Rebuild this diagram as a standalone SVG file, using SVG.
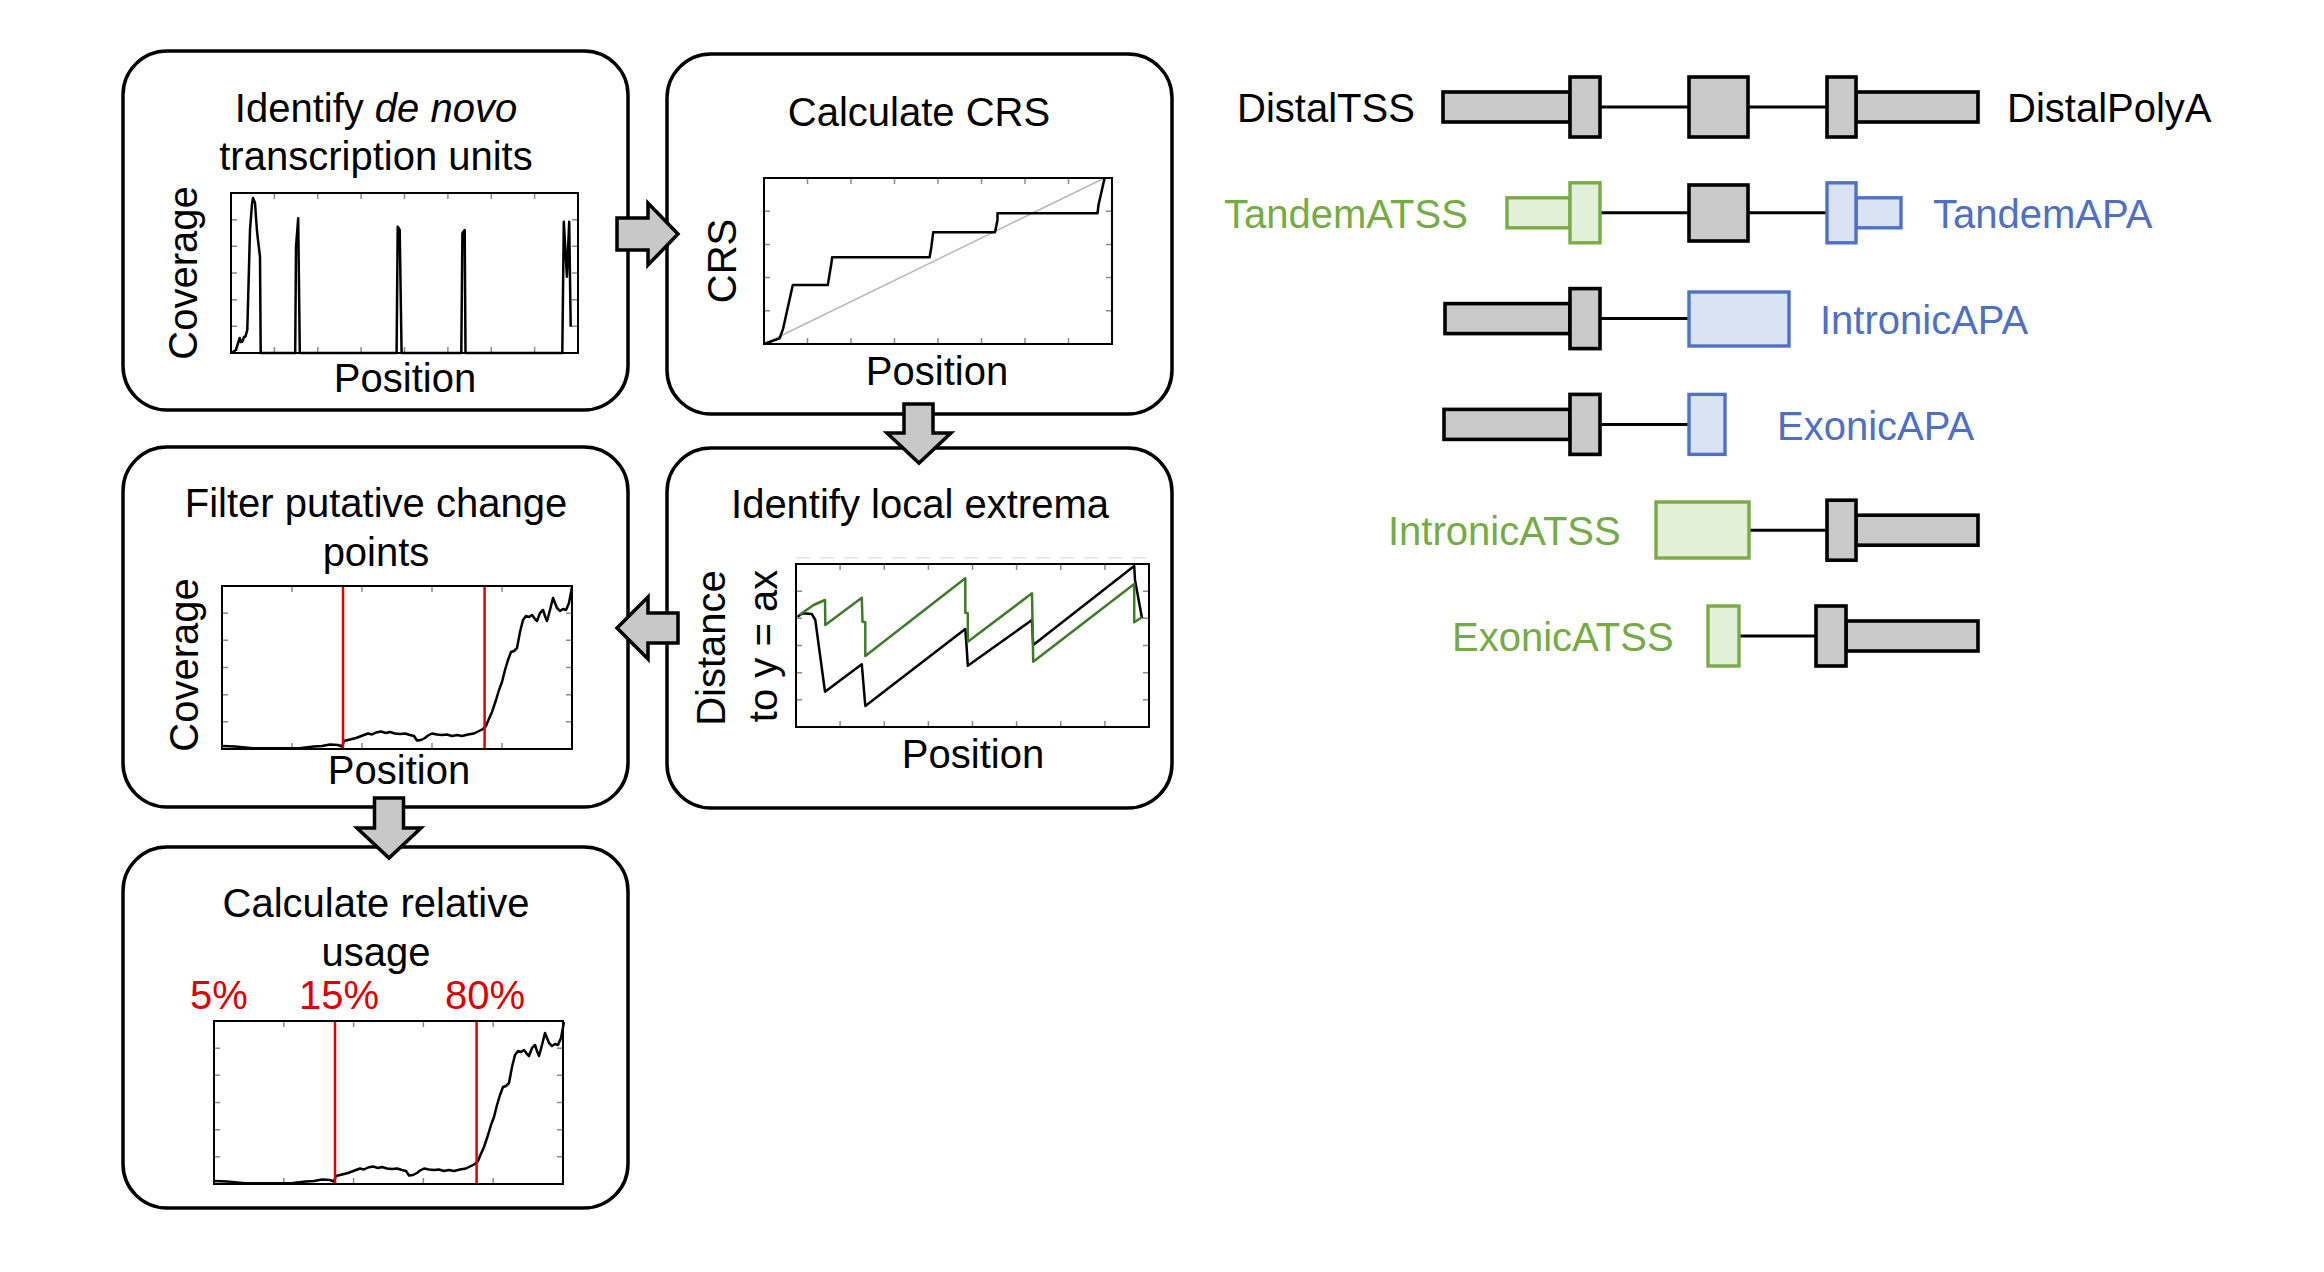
<svg xmlns="http://www.w3.org/2000/svg" width="2324" height="1272" viewBox="0 0 2324 1272">
<style>
text{font-family:"Liberation Sans",Arial,sans-serif;font-size:40px;fill:#000}
.c{text-anchor:middle}
.box{fill:#fff;stroke:#000;stroke-width:3.5}
.arr{fill:#c8c8c8;stroke:#000;stroke-width:3.5;stroke-linejoin:miter}
.frame{fill:none;stroke:#000;stroke-width:2}
.tick{fill:none;stroke:#8a8a8a;stroke-width:1.5}
.curve{fill:none;stroke:#000;stroke-width:2.5;stroke-linejoin:round}
.gcurve{fill:none;stroke:#3f7a2c;stroke-width:2.5;stroke-linejoin:round}
.red{stroke:#dd0000;stroke-width:2.5}
.rtext{fill:#dd0000}
.gray{fill:#c9c9c9;stroke:#000;stroke-width:3.6}
.grn{fill:#e2efd9;stroke:#7aab48;stroke-width:3.4}
.blu{fill:#dae3f3;stroke:#4f72c4;stroke-width:3.4}
.ln{stroke:#000;stroke-width:3}
.gt{fill:#75ab45}
.bt{fill:#4f6fc4}
</style>
<defs>
<path id="cov" d="M222.5,746 L235,746.5 L253,748.3 L300,748.3 L305,747.5 L314,746.5 L322,746 L330,744.5 L338,745 L342,746.5 L344,741 L350,739.5 L356,738 L360,736.5 L364,735 L368,733.5 L372,734.5 L376,732.5 L381,731.5 L386,733 L390,732 L395,733.5 L400,734 L405,733.5 L410,735 L414,736 L417,740.5 L421,740 L425,738 L428,735.5 L432,733.5 L437,734.5 L442,735 L447,734.5 L452,736 L457,735 L462,736 L468,734.5 L474,733.5 L478,731.5 L483,729 L486,726 L488,721 L492,712 L496,700 L499,690 L502,682 L505,670 L508,660 L511,652 L514,651 L517,648 L520,632 L523,620 L526,616 L529,617 L532,615 L535,619 L537,621 L540,613 L543,610 L545,616 L547,621 L550,610 L553,598 L555,603 L557,608 L560,611 L563,609 L566,610 L569,603 L572,587"/>
</defs>

<g id="node-denovo">
<rect class="box" x="123" y="51" width="505" height="359" rx="44"/>
<text class="c" x="376" y="122">Identify <tspan font-style="italic">de novo</tspan></text>
<text class="c" x="376" y="170">transcription units</text>
<text class="c" transform="translate(197,273) rotate(-90)">Coverage</text>
<text class="c" x="405" y="392">Position</text>
<path class="tick" d="M274.4,353v-6M317.8,353v-6M361.1,353v-6M404.5,353v-6M447.9,353v-6M491.3,353v-6M534.6,353v-6M274.4,193v6M317.8,193v6M361.1,193v6M404.5,193v6M447.9,193v6M491.3,193v6M534.6,193v6M231,219.7h6M231,246.3h6M231,273h6M231,299.7h6M231,326.3h6M578,219.7h-6M578,246.3h-6M578,273h-6M578,299.7h-6M578,326.3h-6"/>
<path class="curve" d="M231.3,353 L235.9,350 L239.7,338 L241,342 L242.4,341.7 L244,337 L245.4,336.7 L247.3,330 L250,230 L252,204 L253,198 L255,203 L256.9,230 L258,240 L260,256.7 L260.7,353 L295.2,353 L296,246.7 L298.2,218.3 L299.8,353 L396.6,353 L397.7,226.7 L399.7,230 L401.6,353 L461.3,353 L462.4,233.3 L464.7,230 L465.5,353 L562.3,353 L563.8,221.7 L566.9,276.7 L569.2,221.7 L570.7,326.7"/>
<rect class="frame" x="231" y="193" width="347" height="160"/>
</g>

<g id="node-crs">
<rect class="box" x="667" y="54" width="505" height="360" rx="44"/>
<text class="c" x="919" y="126">Calculate CRS</text>
<text class="c" transform="translate(736,261) rotate(-90)">CRS</text>
<text class="c" x="937" y="385">Position</text>
<path class="tick" d="M807.5,344v-6M851,344v-6M894.5,344v-6M938,344v-6M981.5,344v-6M1025,344v-6M1068.5,344v-6M807.5,178v6M851,178v6M894.5,178v6M938,178v6M981.5,178v6M1025,178v6M1068.5,178v6M764,211.2h6M764,244.4h6M764,277.6h6M764,310.8h6M1112,211.2h-6M1112,244.4h-6M1112,277.6h-6M1112,310.8h-6"/>
<line x1="764" y1="344" x2="1104.6" y2="178" stroke="#b8b8b8" stroke-width="1.5"/>
<path class="curve" d="M764,344 L779.6,338.3 L783.2,328.3 L792.8,285 L827.8,285 L831.4,263.3 L832.1,257.3 L929.6,257.3 L931.4,246.7 L933.2,232.3 L995,232.3 L997.5,220 L997.5,213.3 L1097.5,213.3 L1098.5,205 L1104.6,178"/>
<rect class="frame" x="764" y="178" width="348" height="166"/>
</g>

<g id="node-filter">
<rect class="box" x="123" y="447" width="505" height="360" rx="44"/>
<text class="c" x="376" y="517">Filter putative change</text>
<text class="c" x="376" y="566">points</text>
<text class="c" transform="translate(198,665) rotate(-90)">Coverage</text>
<text class="c" x="399" y="784">Position</text>
<path class="tick" d="M292,749v-6M362,749v-6M432,749v-6M502,749v-6M292,586v6M362,586v6M432,586v6M502,586v6M222,613.2h6M222,640.3h6M222,667.5h6M222,694.7h6M222,721.8h6M572,613.2h-6M572,640.3h-6M572,667.5h-6M572,694.7h-6M572,721.8h-6"/>
<use href="#cov" class="curve"/>
<line class="red" x1="343" y1="586" x2="343" y2="749"/>
<line class="red" x1="484.6" y1="586" x2="484.6" y2="749"/>
<rect class="frame" x="222" y="586" width="350" height="163"/>
</g>

<g id="node-extrema">
<rect class="box" x="667" y="448" width="505" height="360" rx="44"/>
<text class="c" x="920" y="518">Identify local extrema</text>
<text class="c" transform="translate(725,648) rotate(-90)">Distance</text>
<text class="c" transform="translate(777,646) rotate(-90)">to y = ax</text>
<text class="c" x="973" y="768">Position</text>
<line x1="796" y1="557.7" x2="1155" y2="557.7" stroke="#e2e2e2" stroke-width="1.5" stroke-dasharray="14 10"/>
<path class="tick" d="M840.1,727v-6M884.3,727v-6M928.4,727v-6M972.5,727v-6M1016.6,727v-6M1060.8,727v-6M1104.9,727v-6M840.1,564v6M884.3,564v6M928.4,564v6M972.5,564v6M1016.6,564v6M1060.8,564v6M1104.9,564v6M796,591.2h6M796,618.3h6M796,645.5h6M796,672.7h6M796,699.8h6M1149,591.2h-6M1149,618.3h-6M1149,645.5h-6M1149,672.7h-6M1149,699.8h-6"/>
<path class="curve" d="M797.5,616.7 L802.8,613.3 L811.8,614 L815.3,620 L825,691.7 L861.8,664.3 L865.3,706 L965.3,629 L966.4,643.3 L967.8,665.7 L1032,620 L1033.2,645 L1134.2,566 L1135,580 L1142,618.3"/>
<path class="gcurve" d="M799.3,615 L813.6,605 L825,600 L825.3,625 L861.8,597.7 L862.5,621.7 L865.3,622.3 L865.3,656 L965.3,578.3 L965.3,612.7 L967.8,613.3 L967.8,641.7 L1032,593.3 L1033.2,661.7 L1134.2,584 L1134.2,622.3 L1142,617.3"/>
<rect class="frame" x="796" y="564" width="353" height="163"/>
</g>

<g id="node-usage">
<rect class="box" x="123" y="847" width="505" height="361" rx="44"/>
<text class="c" x="376" y="917">Calculate relative</text>
<text class="c" x="376" y="966">usage</text>
<text class="c rtext" x="219" y="1009">5%</text>
<text class="c rtext" x="339" y="1009">15%</text>
<text class="c rtext" x="485" y="1009">80%</text>
<path class="tick" d="M283.8,1184v-6M353.6,1184v-6M423.4,1184v-6M493.2,1184v-6M283.8,1021v6M353.6,1021v6M423.4,1021v6M493.2,1021v6M214,1048.2h6M214,1075.3h6M214,1102.5h6M214,1129.7h6M214,1156.8h6M563,1048.2h-6M563,1075.3h-6M563,1102.5h-6M563,1129.7h-6M563,1156.8h-6"/>
<use href="#cov" class="curve" transform="translate(-8,435)"/>
<line class="red" x1="335" y1="1021" x2="335" y2="1184"/>
<line class="red" x1="476.6" y1="1021" x2="476.6" y2="1184"/>
<rect class="frame" x="214" y="1021" width="349" height="163"/>
</g>

<g id="connectors">
<path class="arr" d="M617,218 H648 V203 L678,234 L648,265 V250 H617 Z"/>
<path class="arr" d="M904,404 H933 V433 H951 L919,463 L887,433 H904 Z"/>
<path class="arr" d="M678,613 H648 V597 L617,628 L648,659 V643 H678 Z"/>
<path class="arr" d="M374.5,798 H403.5 V828 H421 L389,858 L357,828 H374.5 Z"/>
</g>

<g id="node-distal">
<text x="1237" y="122">DistalTSS</text>
<line class="ln" x1="1600" y1="107" x2="1689" y2="107"/>
<line class="ln" x1="1748" y1="107" x2="1827" y2="107"/>
<rect class="gray" x="1443" y="92" width="127" height="30"/>
<rect class="gray" x="1570" y="77" width="30" height="60"/>
<rect class="gray" x="1689" y="77" width="59" height="60"/>
<rect class="gray" x="1856" y="92" width="122" height="30"/>
<rect class="gray" x="1827" y="77" width="29" height="60"/>
<text x="2007" y="122">DistalPolyA</text>
</g>

<g id="node-tandem">
<text class="gt" x="1224" y="228">TandemATSS</text>
<line class="ln" x1="1600" y1="212.8" x2="1689" y2="212.8"/>
<line class="ln" x1="1748" y1="212.8" x2="1827" y2="212.8"/>
<rect class="grn" x="1507" y="197.8" width="63" height="30"/>
<rect class="grn" x="1570" y="182.8" width="30" height="60"/>
<rect class="gray" x="1689" y="185" width="59" height="56"/>
<rect class="blu" x="1856" y="197.8" width="45" height="30"/>
<rect class="blu" x="1827" y="182.8" width="29" height="60"/>
<text class="bt" x="1933" y="228">TandemAPA</text>
</g>

<g id="node-intronicapa">
<line class="ln" x1="1600" y1="318.6" x2="1689" y2="318.6"/>
<rect class="gray" x="1445" y="303.6" width="125" height="30"/>
<rect class="gray" x="1570" y="288.6" width="30" height="60"/>
<rect class="blu" x="1689" y="292" width="100" height="54"/>
<text class="bt" x="1820" y="334">IntronicAPA</text>
</g>

<g id="node-exonicapa">
<line class="ln" x1="1600" y1="424.4" x2="1689" y2="424.4"/>
<rect class="gray" x="1444" y="409.4" width="126" height="30"/>
<rect class="gray" x="1570" y="394.4" width="30" height="60"/>
<rect class="blu" x="1689" y="394.4" width="36" height="60"/>
<text class="bt" x="1777" y="439.5">ExonicAPA</text>
</g>

<g id="node-intronicatss">
<text class="gt" x="1388" y="545">IntronicATSS</text>
<line class="ln" x1="1749" y1="530.2" x2="1827" y2="530.2"/>
<rect class="grn" x="1656" y="502" width="93" height="56"/>
<rect class="gray" x="1856" y="515.2" width="122" height="30"/>
<rect class="gray" x="1827" y="500.2" width="29" height="60"/>
</g>

<g id="node-exonicatss">
<text class="gt" x="1452" y="651">ExonicATSS</text>
<line class="ln" x1="1739" y1="636" x2="1816" y2="636"/>
<rect class="grn" x="1708" y="606" width="31" height="60"/>
<rect class="gray" x="1846" y="621" width="132" height="30"/>
<rect class="gray" x="1816" y="606" width="30" height="60"/>
</g>
</svg>
